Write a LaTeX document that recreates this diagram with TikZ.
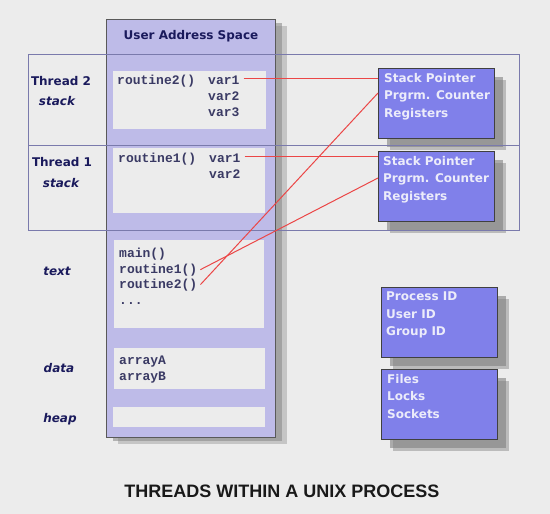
\documentclass[tikz,border=0pt]{standalone}
\usepackage{fontspec}
\setmainfont{DejaVu Sans}
\newfontfamily\codefont{Liberation Mono}
\newfontfamily\capfont{Liberation Sans}
\usetikzlibrary{positioning,shadows}

\definecolor{pagebg}{RGB}{236,236,236}
\definecolor{colfill}{RGB}{190,187,232}
\definecolor{bandcol}{RGB}{122,122,172}
\definecolor{boxblue}{RGB}{128,128,234}
\definecolor{boxink}{RGB}{236,236,250}
\definecolor{navy}{RGB}{26,26,92}
\definecolor{codeink}{RGB}{58,58,100}
\definecolor{linkred}{RGB}{235,70,70}

\begin{document}
\begin{tikzpicture}[%
    x=1pt, y=-1pt,
    lbl/.style={font={\bfseries\fontsize{12}{14}\selectfont}, text=navy, inner sep=0pt},
    seglbl/.style={lbl, font={\bfseries\itshape\fontsize{12}{14}\selectfont}},
    codeline/.style={font={\codefont\bfseries\fontsize{13}{16}\selectfont}, text=codeink, inner sep=0pt, anchor=base west},
    segbox/.style={fill=pagebg, anchor=north west, inner sep=0pt},
    bandline/.style={draw=bandcol, line width=0.9pt},
    redlink/.style={draw=linkred, line width=1pt},
    regbox/.style={draw=black!75, fill=boxblue, line width=0.9pt, anchor=north west, inner sep=0pt,
        minimum width=116pt, minimum height=70pt,
        drop shadow={shadow xshift=12pt, shadow yshift=-12pt, fill=black!50, opacity=0.45},
        drop shadow={shadow xshift=9pt, shadow yshift=-9pt, fill=black!50, opacity=0.6}},
    regtext/.style={font={\bfseries\fontsize{12}{17.5}\selectfont}, text=boxink, align=left, anchor=north west, inner sep=0pt}
    ]

    \fill[pagebg] (0,0) rectangle (550,514);
    \useasboundingbox (0,0) rectangle (550,514);

    % user address space column
    \node[draw=black!65, fill=colfill, line width=1pt, anchor=north west, minimum width=169pt, minimum height=418pt,
        drop shadow={shadow xshift=11pt, shadow yshift=-6pt, fill=black!45, opacity=0.4},
        drop shadow={shadow xshift=6pt, shadow yshift=-3pt, fill=black!45, opacity=0.6}] (uas) at (106,19) {};
    \node[lbl] (uastitle) at ([yshift=-17pt]uas.north) {User Address Space};

    \node[segbox, minimum width=153pt, minimum height=58pt] (t2box) at (113,71) {};
    \node[segbox, minimum width=152pt, minimum height=65pt] (t1box) at (113,148) {};
    \node[segbox, minimum width=150pt, minimum height=88pt] (txbox) at (114,240) {};
    \node[segbox, minimum width=151pt, minimum height=41pt] (dtbox) at (114,348) {};
    \node[segbox, minimum width=152pt, minimum height=20pt] (hpbox) at (113,407) {};

    % left labels
    \node[lbl] (t2lbl) at (61,81) {Thread 2};
    \node[seglbl] (t2stk) at (57,101) {stack};
    \node[lbl] (t1lbl) at (62,162) {Thread 1};
    \node[seglbl] (t1stk) at (61,183) {stack};
    \node[seglbl] (txlbl) at (57,271) {text};
    \node[seglbl] (dtlbl) at (59,368) {data};
    \node[seglbl] (hplbl) at (60,419) {heap};

    % code
    \node[codeline] (t2r) at (117,84) {routine2()};
    \node[codeline] (t2v1) at (208,84) {var1};
    \node[codeline] (t2v2) at (208,100) {var2};
    \node[codeline] (t2v3) at (208,116) {var3};
    \node[codeline] (t1r) at (118,162) {routine1()};
    \node[codeline] (t1v1) at (209,162) {var1};
    \node[codeline] (t1v2) at (209,178) {var2};
    \node[codeline] (txm) at (119,257) {main()};
    \node[codeline] (txr1) at (119,273) {routine1()};
    \node[codeline] (txr2) at (119,288) {routine2()};
    \node[codeline] (txd) at (119,304) {...};
    \node[codeline] (dta) at (119,364) {arrayA};
    \node[codeline] (dtb) at (119,380) {arrayB};

    % register boxes
    \node[regbox] (stk2) at (378,68) {};
    \node[regtext] (stk2txt) at ([xshift=6pt,yshift=-5pt]stk2.north west) {Stack Pointer\\Prgrm. Counter\\Registers};
    \node[regbox] (stk1) at (378,151) {};
    \node[regtext] (stk1txt) at ([xshift=5pt,yshift=-5pt]stk1.north west) {Stack Pointer\\Prgrm. Counter\\Registers};

    \node[regbox] (pid) at (381,287) {};
    \node[regtext] (pidtxt) at ([xshift=5pt,yshift=-5pt]pid.north west) {Process ID\\User ID\\Group ID};
    \node[regbox] (res) at (381,369) {};
    \node[regtext] (restxt) at ([xshift=6pt,yshift=-5pt]res.north west) {Files\\Locks\\Sockets};

    % thread bands
    \draw[bandline] (28,54) rectangle (519,230);
    \draw[bandline] (28,145) -- (519,145);

    \draw[redlink] ([xshift=4pt,yshift=1pt]t2v1.east) -- ([yshift=1pt]t2v1.east -| stk2.west);
    \draw[redlink] ([xshift=4pt,yshift=1pt]t1v1.east) -- ([yshift=1pt]t1v1.east -| stk1.west);
    \draw[redlink] ([xshift=3pt]txr2.east) -- ([yshift=-25pt]stk2.north west);
    \draw[redlink] ([xshift=3pt]txr1.east) -- ([yshift=-27pt]stk1.north west);

    \node[font={\capfont\bfseries\fontsize{18}{20}\selectfont}, text=black!90, inner sep=0pt] (caption) at (282,491) {THREADS WITHIN A UNIX PROCESS};

\end{tikzpicture}
\end{document}
